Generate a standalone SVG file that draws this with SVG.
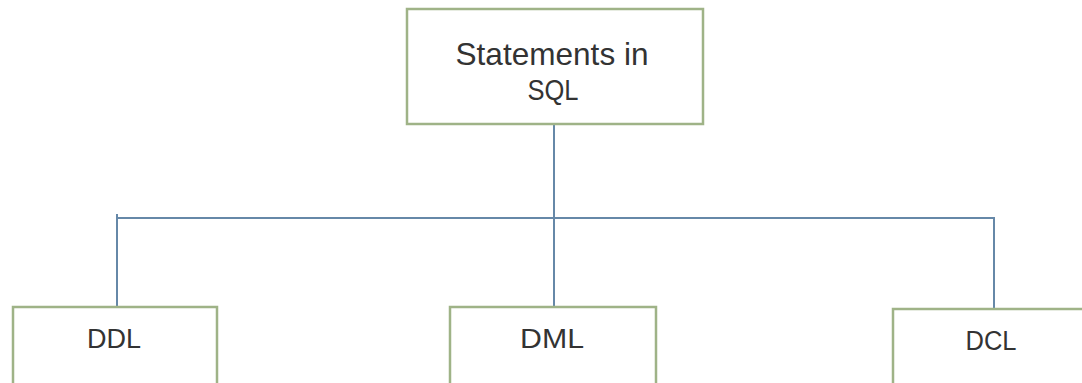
<svg xmlns="http://www.w3.org/2000/svg" width="1082" height="383" viewBox="0 0 1082 383">
<style>
.box{fill:#ffffff;stroke:#9fb387;stroke-width:2.5}
.lbl{font-family:"Liberation Sans",Arial,sans-serif;fill:#333333;text-anchor:middle}
.con{stroke:#6688a8;stroke-width:2;fill:none}
</style>
<rect width="1082" height="383" fill="#ffffff"/>
<g id="connectors">
<line class="con" x1="554" y1="124" x2="554" y2="218"/>
<line class="con" x1="116" y1="218" x2="995" y2="218"/>
<line class="con" x1="117" y1="214" x2="117" y2="307"/>
<line class="con" x1="554" y1="218" x2="554" y2="307"/>
<line class="con" x1="994" y1="218" x2="994" y2="309"/>
</g>
<g id="node-statements">
<rect class="box" x="407" y="9" width="296" height="115"/>
<text class="lbl" x="552" y="65" font-size="32" textLength="193" lengthAdjust="spacingAndGlyphs">Statements in</text>
<text class="lbl" x="553" y="100" font-size="30" textLength="51" lengthAdjust="spacingAndGlyphs">SQL</text>
</g>
<g id="node-ddl">
<rect class="box" x="13" y="307" width="204" height="90"/>
<text class="lbl" x="114" y="348" font-size="27" textLength="54" lengthAdjust="spacingAndGlyphs">DDL</text>
</g>
<g id="node-dml">
<rect class="box" x="450" y="307" width="206" height="90"/>
<text class="lbl" x="552" y="348" font-size="27" textLength="64" lengthAdjust="spacingAndGlyphs">DML</text>
</g>
<g id="node-dcl">
<rect class="box" x="893" y="309" width="200" height="90"/>
<text class="lbl" x="991" y="350" font-size="27" textLength="51" lengthAdjust="spacingAndGlyphs">DCL</text>
</g>
</svg>
